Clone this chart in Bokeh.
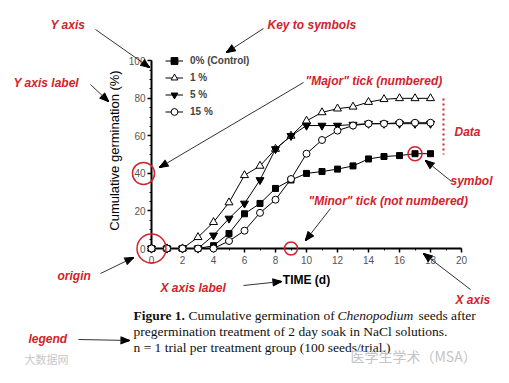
import math
from bokeh.plotting import figure
from bokeh.models import Range1d, SingleIntervalTicker, Legend, LegendItem, Grid
from bokeh.core.properties import value
from bokeh.embed import file_html
from bokeh.resources import INLINE

# ---------------- data ----------------
days = list(range(0, 19))
ctrl_0 = [0, 0, 0, 0, 1.5, 8, 18.5, 24, 32, 36.5, 40, 41, 42.3, 44, 47.7, 49, 49.5, 50.5, 50.5]
nacl_1 = [0, 0, 0, 6, 14, 24.5, 39, 44, 53, 60, 68, 72.5, 74.5, 75.5, 78, 79.5, 80, 80, 80]
nacl_5 = [0, 0, 0, 0, 7, 16, 24, 36.5, 53, 60, 65.5, 65.5, 65.5, 66, 66.5, 66.5, 66.5, 66.5, 66.5]
nacl_15 = [0, 0, 0, 0, 0, 4, 9.5, 19, 26, 37, 50.5, 57.8, 62.8, 65.5, 66.5, 66.5, 67, 67, 67]
series_labels = ["0% (Control)", "1 %", "5 %", "15 %"]
x_label = "TIME (d)"
y_label = "Cumulative germination (%)"

# ---------------- layout ----------------
W, H = 493, 367
FL, FW = 151, 310
FT, FH = 52, 196
XR = (0.0, 20.0)
YR = (0.0, FH / 1.877)


def dx(ref_x):
    return XR[0] + (ref_x - FL) / FW * (XR[1] - XR[0])


def dy(ref_y):
    return YR[1] - (ref_y - FT) / FH * (YR[1] - YR[0])


p = figure(frame_width=FW, frame_height=FH,
           x_range=Range1d(*XR), y_range=Range1d(*YR),
           min_border_left=FL, min_border_right=W - FL - FW,
           min_border_top=FT, min_border_bottom=H - FT - FH,
           output_backend="svg", toolbar_location=None,
           background_fill_color="white", border_fill_color="white")
p.outline_line_color = None
p.center = [r for r in p.center if not isinstance(r, Grid)]

SANS = "Liberation Sans"
SERIF = "Liberation Serif"
LV = "overlay"

# axes
p.xaxis.bounds = (0, 20)
p.yaxis.bounds = (0, 100)
p.xaxis.ticker = SingleIntervalTicker(interval=2, num_minor_ticks=2)
p.yaxis.ticker = SingleIntervalTicker(interval=20, num_minor_ticks=4)
for ax in (p.xaxis, p.yaxis):
    ax.axis_line_width = 2
    ax.axis_line_color = "black"
    ax.major_tick_in = 0
    ax.major_tick_out = 4
    ax.minor_tick_in = 0
    ax.minor_tick_out = 2
    ax.major_tick_line_width = 1.5
    ax.major_tick_line_color = "black"
    ax.minor_tick_line_color = "black"
    ax.major_label_text_font = SANS
    ax.major_label_text_font_size = "10px"
    ax.major_label_text_color = "#555555"
    ax.axis_label_text_font = SANS
    ax.axis_label_text_color = "black"
p.xaxis.major_label_standoff = 3
p.yaxis.major_label_standoff = 2
p.xaxis.axis_label = x_label
p.xaxis.axis_label_text_font_size = "12px"
p.xaxis.axis_label_text_font_style = "bold"
p.xaxis.axis_label_standoff = 6
p.yaxis.axis_label = y_label
p.yaxis.axis_label_text_font_size = "13px"
p.yaxis.axis_label_text_font_style = "normal"
p.yaxis.axis_label_standoff = 4

# ---------------- series ----------------
specs = [
    (ctrl_0, "square", 6, "black"),
    (nacl_1, "triangle", 8, "white"),
    (nacl_5, "inverted_triangle", 8, "black"),
    (nacl_15, "circle", 7, "white"),
]
items = []
for (vals, marker, size, fill), lab in zip(specs, series_labels):
    ln = p.line(days, vals, line_color="black", line_width=1, level=LV)
    sc = p.scatter(days, vals, marker=marker, size=size, fill_color=fill,
                   line_color="black", line_width=1, level=LV)
    items.append(LegendItem(label=lab, renderers=[ln, sc]))

legend = Legend(items=items, location=(14, 128), padding=0, margin=0,
                spacing=0, glyph_height=17, label_height=17, glyph_width=18,
                label_standoff=7, border_line_color=None,
                background_fill_alpha=0, label_text_font=SANS,
                label_text_font_size="10px", label_text_font_style="bold")
p.add_layout(legend, "center")

# ---------------- annotation texts (anchored inside, shifted in px) ----------------
AX, AY = 10.0, 50.0
ASX = FL + (AX - XR[0]) / (XR[1] - XR[0]) * FW
ASY = FT + (YR[1] - AY) / (YR[1] - YR[0]) * FH


def add_texts(entries, font, size, style, color):
    p.text(x=[AX] * len(entries), y=[AY] * len(entries),
           text=[e[0] for e in entries],
           x_offset=[e[1] - ASX for e in entries],
           y_offset=[e[2] - ASY for e in entries],
           text_font=value(font), text_font_size=value(size),
           text_font_style=style, text_color=color,
           text_align="left", text_baseline="middle", level=LV)


RED = "#d2232a"
red_texts = [
    ("Y axis", 50, 25),
    ("Key to symbols", 267, 25),
    ("Y axis label", 13, 83),
    ("\"Major\" tick (numbered)", 305, 81),
    ("Data", 454, 131),
    ("symbol", 450, 180),
    ("\"Minor\" tick (not numbered)", 308, 200),
    ("origin", 57, 275),
    ("X axis label", 160, 287),
    ("X axis", 455, 299),
    ("legend", 28, 338),
]
add_texts(red_texts, SANS, "12px", "bold italic", RED)

CAP = "13.5px"
cap_normal = [
    ("Cumulative germination of", 188, 315),
    ("seeds after", 418, 315),
    ("pregermination treatment of 2 day soak in NaCl solutions.", 133, 331),
    ("n = 1 trial per treatment group (100 seeds/trial.)", 133, 347),
]
add_texts([("Figure 1.", 133, 315)], SERIF, CAP, "bold", "#111111")
add_texts(cap_normal, SERIF, CAP, "normal", "#111111")
add_texts([("Chenopodium", 337, 315)], SERIF, CAP, "italic", "#111111")

add_texts([("医学生学术（MSA）", 350, 355)], "Noto Sans CJK SC", "14px", "normal", "#c4c4c4")
add_texts([("大数据网", 24, 358)], "Noto Sans CJK SC", "11px", "normal", "#c8c8c8")

# ---------------- arrows (body + filled head made of segments) ----------------
arrows = [
    (95, 29, 149, 67),
    (263, 28, 226, 52),
    (90, 84, 108, 101),
    (303, 82, 159, 167),
    (451, 181, 425, 160),
    (330, 208, 305, 240),
    (100, 273, 133, 257),
    (243, 285, 281, 281),
    (470, 289, 423, 253),
    (78, 339, 129, 340),
]
HL, HW = 9, 3.6
bx0, by0, bx1, by1 = [], [], [], []
fx0, fy0, fx1, fy1 = [], [], [], []
for x0, y0, x1, y1 in arrows:
    vx, vy = x1 - x0, y1 - y0
    L = math.hypot(vx, vy)
    ux, uy = vx / L, vy / L
    nx, ny = -uy, ux
    bcx, bcy = x1 - ux * HL, y1 - uy * HL
    bx0.append(dx(x0)); by0.append(dy(y0)); bx1.append(dx(bcx)); by1.append(dy(bcy))
    steps = 9
    for k in range(steps):
        t = -HW + 2 * HW * k / (steps - 1)
        fx0.append(dx(x1)); fy0.append(dy(y1))
        fx1.append(dx(bcx + nx * t)); fy1.append(dy(bcy + ny * t))
p.segment(x0=bx0, y0=by0, x1=bx1, y1=by1, line_color="#333333", line_width=1, level=LV)
p.segment(x0=fx0, y0=fy0, x1=fx1, y1=fy1, line_color="black", line_width=1.2, level=LV)

# dotted red "Data" bracket
p.segment(x0=[dx(443)], y0=[dy(98)], x1=[dx(443)], y1=[dy(154)], line_color=RED,
          line_width=2, line_dash="2 3", level=LV)

# red rings
ring_x = [dx(143), 0, 9, 17]
ring_y = [40, 0, 0, ctrl_0[17]]
ring_s = [22, 29, 13, 14]
p.scatter(x=ring_x, y=ring_y, size=ring_s, marker="circle", fill_color=None,
          line_color=RED, line_width=1.5, level=LV)

open("out.html", "w").write(file_html(p, INLINE))
